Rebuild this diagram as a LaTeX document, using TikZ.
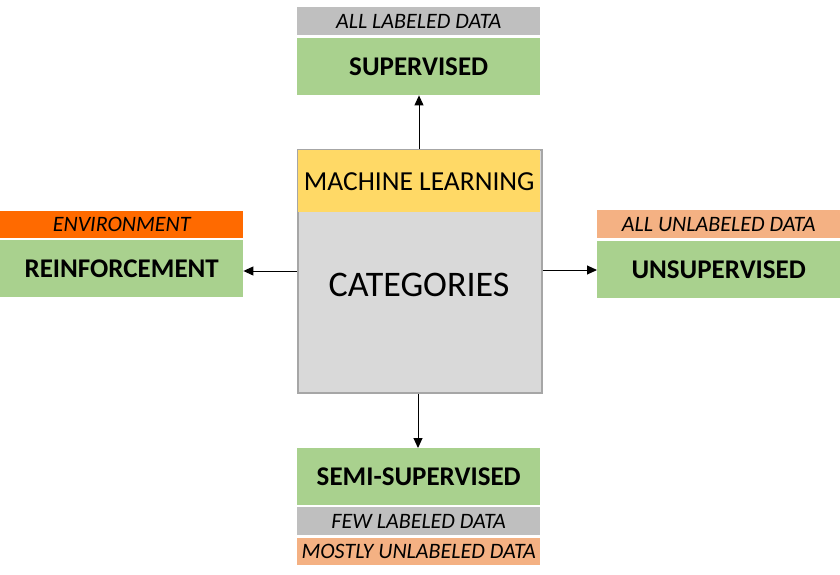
\documentclass[tikz,border=0pt]{standalone}
\usepackage{fontspec}
\setmainfont{Carlito}
\usetikzlibrary{arrows.meta}
\definecolor{grn}{HTML}{A9D18E}
\definecolor{gry}{HTML}{BFBFBF}
\definecolor{peach}{HTML}{F4B183}
\definecolor{orng}{HTML}{FF6A00}
\definecolor{ylw}{HTML}{FFD966}
\definecolor{body}{HTML}{D9D9D9}
\definecolor{bord}{HTML}{A6A6A6}
\tikzset{
  box/.style={draw=none, minimum width=243pt, inner sep=0pt, anchor=north west},
  mainbox/.style={box, fill=grn, minimum height=57pt, font=\fontsize{27}{31}\selectfont\bfseries},
  tagbox/.style={box, minimum height=28pt, font=\fontsize{22}{26}\selectfont\itshape},
  conn/.style={-{Triangle[length=10pt,width=9pt]}, line width=1pt, black}
}
\begin{document}
\begin{tikzpicture}[x=1pt,y=-1pt]
\useasboundingbox (0,0) rectangle (840,575);
% center
\node[box, fill=body, draw=bord, line width=1.5pt, minimum width=244pt, minimum height=243pt] (cat) at (297,149) {};
\node[box, fill=ylw, minimum width=242pt, minimum height=62pt, font=\fontsize{27.5}{32}\selectfont] (ml) at (298,150) {MACHINE LEARNING};
\node[font=\fontsize{36}{42}\selectfont] (ctext) at (419,285) {CATEGORIES};
% top
\node[tagbox, fill=gry] (suptag) at (297,7) {ALL LABELED DATA};
\node[mainbox] (sup) at (297,38) {SUPERVISED};
% left
\node[tagbox, fill=orng, minimum height=27pt] (rltag) at (0,211) {ENVIRONMENT};
\node[mainbox] (rl) at (0,240) {REINFORCEMENT};
% right
\node[tagbox, fill=peach] (unstag) at (597,210) {ALL UNLABELED DATA};
\node[mainbox] (uns) at (597,241) {UNSUPERVISED};
% bottom
\node[mainbox] (semi) at (297,448) {SEMI-SUPERVISED};
\node[tagbox, fill=gry] (semitag1) at (297,507) {FEW LABELED DATA};
\node[tagbox, fill=peach, minimum height=27pt] (semitag2) at (297,538) {MOSTLY UNLABELED DATA};
% connectors
\draw[conn] (cat.north -| 419,0) -- (sup.south -| 419,0);
\draw[conn] (cat.west |- 0,271) -- (rl.east |- 0,271);
\draw[conn] (cat.east |- 0,270) -- (uns.west |- 0,270);
\draw[conn] (cat.south -| 418,0) -- (semi.north -| 418,0);
\end{tikzpicture}
\end{document}
